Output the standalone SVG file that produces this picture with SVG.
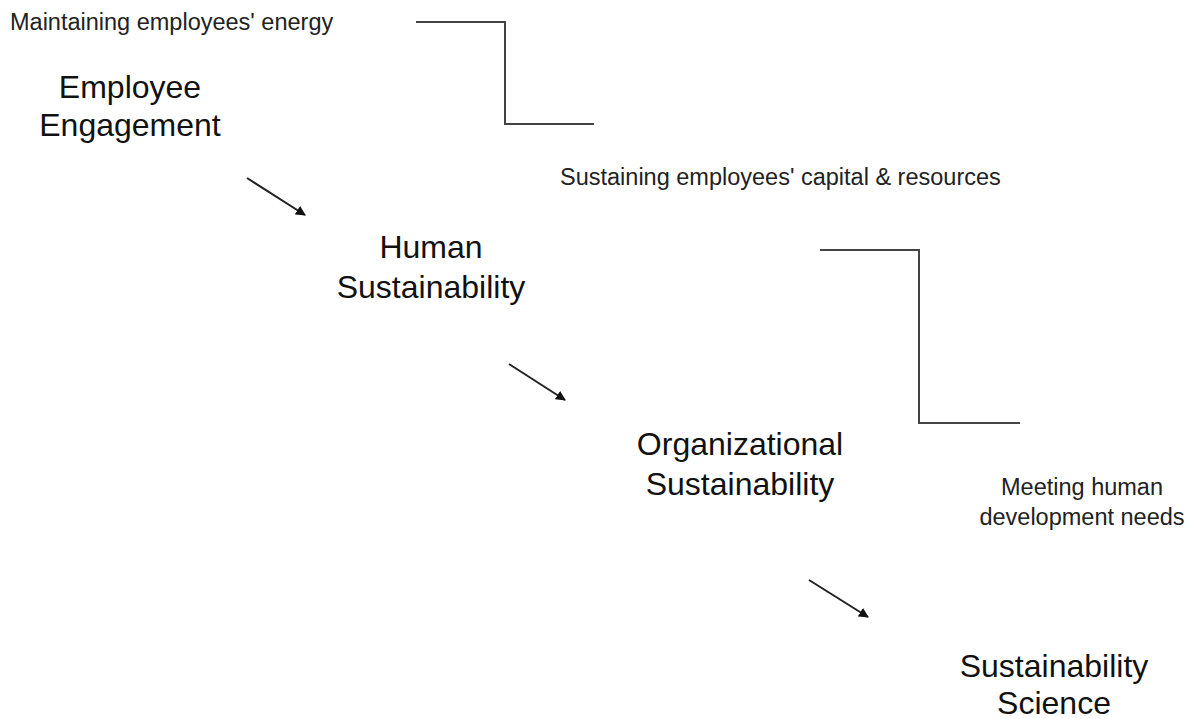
<svg xmlns="http://www.w3.org/2000/svg" width="1191" height="719" viewBox="0 0 1191 719">
  <style>
    .big { font-family: "Liberation Sans", Arial, sans-serif; font-size: 32px; fill: #111; text-anchor: middle; }
    .small { font-family: "Liberation Sans", Arial, sans-serif; font-size: 23.5px; fill: #222; }
    .step { fill: none; stroke: #444; stroke-width: 2; }
    .arrow { fill: none; stroke: #222; stroke-width: 2; marker-end: url(#head); }
  </style>
  <defs>
    <marker id="head" viewBox="0 0 10 10" refX="9" refY="5" markerWidth="5" markerHeight="5" orient="auto" markerUnits="strokeWidth">
      <path d="M0,0 L10,5 L0,10 Z" fill="#111"/>
    </marker>
  </defs>
  <rect width="1191" height="719" fill="#fff"/>

  <!-- descriptive labels -->
  <g id="label-energy">
    <text class="small" x="10" y="30">Maintaining employees' energy</text>
  </g>
  <g id="label-capital">
    <text class="small" x="560" y="185">Sustaining employees' capital &amp; resources</text>
  </g>
  <g id="label-development">
    <text class="small" x="1082" y="495" text-anchor="middle">Meeting human</text>
    <text class="small" x="1082" y="525" text-anchor="middle">development needs</text>
  </g>

  <!-- concept nodes -->
  <g id="node-engagement">
    <text class="big" x="130" y="98">Employee</text>
    <text class="big" x="130" y="136">Engagement</text>
  </g>
  <g id="node-human">
    <text class="big" x="431" y="258">Human</text>
    <text class="big" x="431" y="298">Sustainability</text>
  </g>
  <g id="node-organizational">
    <text class="big" x="740" y="455">Organizational</text>
    <text class="big" x="740" y="495">Sustainability</text>
  </g>
  <g id="node-science">
    <text class="big" x="1054" y="677">Sustainability</text>
    <text class="big" x="1054" y="714">Science</text>
  </g>

  <!-- connectors -->
  <g id="connectors">
    <polyline class="step" points="416,22 505,22 505,124 594,124"/>
    <polyline class="step" points="820,250 919,250 919,423 1020,423"/>
    <line class="arrow" x1="247" y1="178" x2="305" y2="215"/>
    <line class="arrow" x1="509" y1="364" x2="565" y2="400"/>
    <line class="arrow" x1="809" y1="580" x2="868" y2="617"/>
  </g>
</svg>
